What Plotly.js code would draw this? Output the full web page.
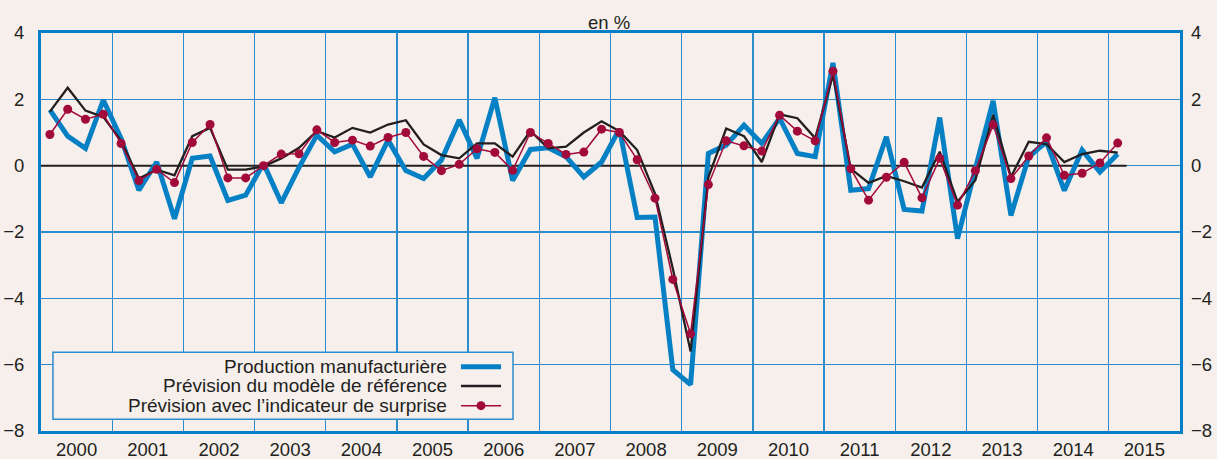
<!DOCTYPE html>
<html>
<head>
<meta charset="utf-8">
<script src="https://cdn.plot.ly/plotly-3.0.1.min.js"></script>
<style>
  html, body { margin: 0; padding: 0; background: #f6efec; }
  #chart { width: 1217px; height: 459px; }
</style>
</head>
<body>
<div id="chart"></div>
<script>
// quarterly growth, en %, 2000T1 to 2015T1
const years = [2000, 2001, 2002, 2003, 2004, 2005, 2006, 2007, 2008, 2009, 2010, 2011, 2012, 2013, 2014, 2015];

const production = [
  1.68, 0.89, 0.52, 1.98,   0.82, -0.74, 0.11, -1.6,   0.22, 0.29, -1.05, -0.89,
  0.07, -1.12, -0.05, 0.92,  0.42, 0.65, -0.34, 0.77,   -0.15, -0.39, 0.17, 1.38,
  0.22, 2.05, -0.45, 0.49,   0.54, 0.27, -0.34, 0.11,   1.1, -1.56, -1.55, -6.15,
  -6.6, 0.37, 0.62, 1.22,    0.67, 1.43, 0.37, 0.27,    3.1, -0.74, -0.69, 0.87,
  -1.32, -1.37, 1.45, -2.2,  -0.1, 1.95, -1.5, 0.27,    0.72, -0.75, 0.47, -0.19,
  0.35
];
const reference = [
  1.63, 2.35, 1.66, 1.47,   0.75, -0.39, -0.12, -0.29,  0.89, 1.14, -0.12, -0.12,
  -0.02, 0.22, 0.54, 1.04,  0.85, 1.14, 1.0, 1.24,      1.37, 0.64, 0.32, 0.22,
  0.67, 0.67, 0.27, 1.05,   0.52, 0.57, 1.0, 1.34,      1.04, 0.47, -0.84, -3.1,
  -5.6, -0.35, 1.12, 0.89,  0.11, 1.55, 1.43, 0.83,     2.73, -0.09, -0.52, -0.31,
  -0.47, -0.66, 0.42, -1.09, -0.44, 1.53, -0.34, 0.72,  0.65, 0.11, 0.35, 0.45,
  0.39
];
const surprise = [
  0.94, 1.70, 1.40, 1.55,   0.67, -0.45, -0.11, -0.51,  0.70, 1.24, -0.37, -0.37,
  0.0, 0.35, 0.36, 1.08,    0.70, 0.77, 0.59, 0.85,     1.0, 0.28, -0.15, 0.04,
  0.51, 0.40, -0.14, 1.0,   0.67, 0.34, 0.41, 1.10,     1.0, 0.18, -0.98, -3.43,
  -5.07, -0.57, 0.75, 0.60, 0.44, 1.52, 1.04, 0.75,     2.85, -0.09, -1.04, -0.35,
  0.10, -0.97, 0.22, -1.19, -0.15, 1.23, -0.39, 0.29,   0.84, -0.29, -0.23, 0.08,
  0.68
];

const seriesNames = [
  "Production manufacturière",
  "Prévision du modèle de référence",
  "Prévision avec l’indicateur de surprise"
];

const BG = "#f6efec";
const BLUE = "#0680c4";
const GRID = "#2b8dcb";
const BLACK = "#231f20";
const RED = "#a10a3b";
const FONT = "Liberation Sans, Arial, sans-serif";
const TICK_SIZE = 18.5;

// quarter centers: year + (q - 0.5) / 4
const quarterX = [];
years.forEach((y) => {
  for (let q = 1; q <= 4; q++) quarterX.push(y + (q - 0.5) / 4);
});
const xs = quarterX.slice(0, production.length);
const lastX = xs[xs.length - 1] + 0.125;

const traces = [
  {
    x: xs, y: production, name: seriesNames[0], type: "scatter", mode: "lines",
    line: { color: BLUE, width: 5 }, showlegend: false
  },
  {
    x: xs, y: reference, name: seriesNames[1], type: "scatter", mode: "lines",
    line: { color: BLACK, width: 2.3 }, showlegend: false
  },
  {
    x: xs, y: surprise, name: seriesNames[2], type: "scatter", mode: "lines+markers",
    line: { color: RED, width: 1.5 }, marker: { color: RED, size: 9 }, showlegend: false
  },
  // invisible trace to carry the right-hand axis
  {
    x: [years[0]], y: [0], yaxis: "y2", type: "scatter", mode: "markers",
    marker: { opacity: 0 }, hoverinfo: "skip", showlegend: false
  },
  // invisible trace to carry year labels centred in each year
  {
    x: [years[0]], y: [0], xaxis: "x2", type: "scatter", mode: "markers",
    marker: { opacity: 0 }, hoverinfo: "skip", showlegend: false
  }
];

// legend drawn by hand: text right-aligned, sample on the right
const legTextX = 0.3582;
const legSample = [0.3687, 0.4039];
const legRows = [0.1616, 0.1131, 0.0636];

const shapes = [
  // zero line stops at the last quarter
  { type: "line", xref: "x", yref: "y", x0: years[0], x1: lastX, y0: 0, y1: 0,
    line: { color: BLACK, width: 2 }, layer: "between" },
  // legend box
  { type: "rect", xref: "paper", yref: "paper", x0: 0.0105, x1: 0.4144, y0: 0.0294, y1: 0.1977,
    fillcolor: BG, line: { color: GRID, width: 1.5 }, layer: "above" },
  { type: "line", xref: "paper", yref: "paper", x0: legSample[0], x1: legSample[1],
    y0: legRows[0], y1: legRows[0], line: { color: BLUE, width: 5 }, layer: "above" },
  { type: "line", xref: "paper", yref: "paper", x0: legSample[0], x1: legSample[1],
    y0: legRows[1], y1: legRows[1], line: { color: BLACK, width: 2.3 }, layer: "above" },
  { type: "line", xref: "paper", yref: "paper", x0: legSample[0], x1: legSample[1],
    y0: legRows[2], y1: legRows[2], line: { color: RED, width: 1.5 }, layer: "above" },
  { type: "circle", xref: "paper", yref: "paper", xsizemode: "pixel", ysizemode: "pixel",
    xanchor: (legSample[0] + legSample[1]) / 2, yanchor: legRows[2],
    x0: -4.5, x1: 4.5, y0: -4.5, y1: 4.5,
    fillcolor: RED, line: { color: RED, width: 0 }, layer: "above" }
];

const annotations = [
  { text: "en %", xref: "paper", yref: "paper", x: 0.499, y: 1.0, yanchor: "bottom",
    yshift: -2, showarrow: false, font: { size: 18.5, color: BLACK, family: FONT } }
].concat(seriesNames.map((name, i) => ({
  text: name, xref: "paper", yref: "paper", x: legTextX, y: legRows[i],
  xanchor: "right", yanchor: "middle", showarrow: false,
  font: { size: 19, color: BLACK, family: FONT }
})));

const yTicks = [-8, -6, -4, -2, 0, 2, 4];
const yTickText = yTicks.map((v) => (v < 0 ? "\u2212" + Math.abs(v) : String(v)));

const layout = {
  width: 1217,
  height: 459,
  margin: { l: 41, r: 37, t: 33, b: 28 },
  paper_bgcolor: BG,
  plot_bgcolor: BG,
  font: { family: FONT, size: TICK_SIZE, color: BLACK },
  showlegend: false,
  xaxis: {
    range: [years[0], years[years.length - 1] + 1],
    tickvals: years.concat([years[years.length - 1] + 1]),
    showticklabels: false,
    showgrid: true, gridcolor: GRID, gridwidth: 1.3,
    zeroline: false,
    showline: true, linecolor: BLUE, linewidth: 3, mirror: true,
    ticks: ""
  },
  xaxis2: {
    overlaying: "x",
    range: [years[0], years[years.length - 1] + 1],
    tickvals: years.map((y) => y + 0.5),
    ticktext: years.map(String),
    showgrid: false, zeroline: false, showline: false,
    ticks: "", ticklabelstandoff: 5,
    tickfont: { size: TICK_SIZE, color: BLACK }
  },
  yaxis: {
    range: [-8, 4],
    tickvals: yTicks,
    ticktext: yTickText,
    showgrid: true, gridcolor: GRID, gridwidth: 1.3,
    zeroline: false,
    showline: true, linecolor: BLUE, linewidth: 3, mirror: true,
    ticks: "", ticklabelstandoff: 10,
    tickfont: { size: TICK_SIZE, color: BLACK }
  },
  yaxis2: {
    overlaying: "y",
    side: "right",
    range: [-8, 4],
    tickvals: yTicks,
    ticktext: yTickText,
    showgrid: false, zeroline: false, showline: false,
    ticks: "", ticklabelstandoff: 10,
    tickfont: { size: TICK_SIZE, color: BLACK }
  },
  shapes: shapes,
  annotations: annotations
};

Plotly.newPlot("chart", traces, layout, { displayModeBar: false, staticPlot: true });
</script>
</body>
</html>
